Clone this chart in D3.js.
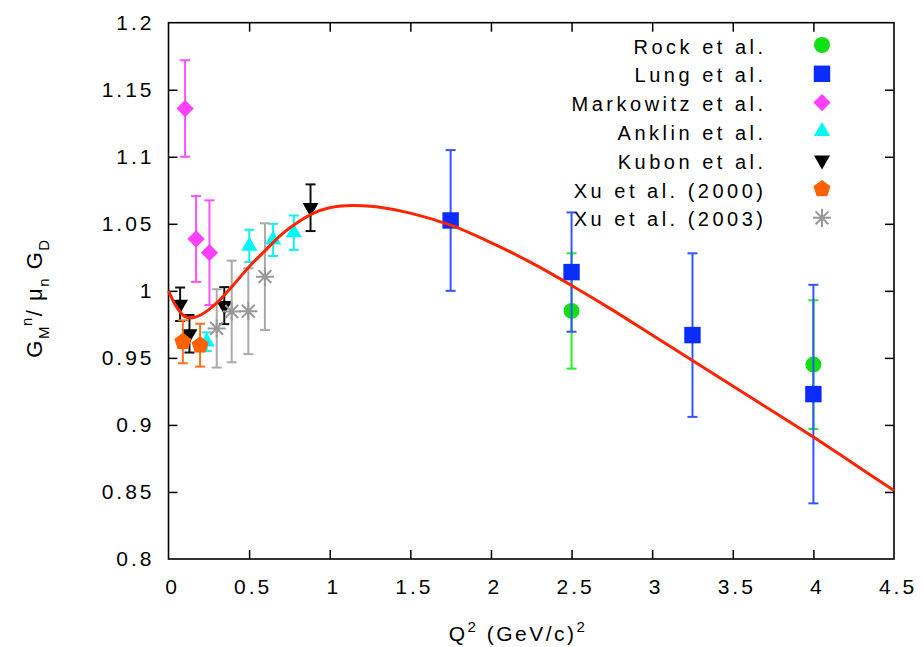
<!DOCTYPE html>
<html>
<head>
<meta charset="utf-8">
<script src="https://cdn.jsdelivr.net/npm/d3@7"></script>
<style>
  html, body { margin: 0; padding: 0; background: #fff; }
  svg { display: block; }
  text { font-family: "Liberation Sans", Arial, Helvetica, sans-serif; fill: #000; }
</style>
</head>
<body>
<svg id="chart" width="923" height="647"></svg>
<script>
// ---------------- data ----------------
const xTicks = [0, 0.5, 1, 1.5, 2, 2.5, 3, 3.5, 4, 4.5];
const xTickLabels = ["0", "0.5", "1", "1.5", "2", "2.5", "3", "3.5", "4", "4.5"];
const yTicks = [0.8, 0.85, 0.9, 0.95, 1.0, 1.05, 1.1, 1.15, 1.2];
const yTickLabels = ["0.8", "0.85", "0.9", "0.95", "1", "1.05", "1.1", "1.15", "1.2"];

const seriesNames = ["Rock et al.", "Lung et al.", "Markowitz et al.", "Anklin et al.", "Kubon et al.", "Xu et al. (2000)", "Xu et al. (2003)"];

const rockQ2 = [2.5, 4.0];
const rockG = [0.985, 0.945];
const rockErr = [0.043, 0.048];

const lungQ2 = [1.75, 2.5, 3.25, 4.0];
const lungG = [1.0525, 1.014, 0.967, 0.923];
const lungErr = [0.0525, 0.0445, 0.061, 0.0815];

const markQ2 = [0.103, 0.171, 0.254];
const markG = [1.136, 1.0387, 1.0285];
const markErr = [0.036, 0.032, 0.039];

const anklinQ2 = [0.237, 0.501, 0.649, 0.777];
const anklinG = [0.962, 1.0335, 1.038, 1.0434];
const anklinErr = [0.007, 0.012, 0.012, 0.0128];

const kubonQ2 = [0.072, 0.130, 0.346, 0.881];
const kubonG = [0.990, 0.968, 0.989, 1.062];
const kubonErr = [0.0125, 0.014, 0.0138, 0.0174];

const xu00Q2 = [0.089, 0.196];
const xu00G = [0.962, 0.9595];
const xu00Err = [0.016, 0.016];

const xu03Q2 = [0.299, 0.392, 0.495, 0.598];
const xu03G = [0.972, 0.9846, 0.9848, 1.0106];
const xu03Err = [0.0292, 0.0379, 0.032, 0.0398];

// fit curve
const curveQ2 = [0, 0.05, 0.1, 0.15, 0.2, 0.25, 0.3, 0.4, 0.5, 0.6, 0.7, 0.8, 0.9, 1.0, 1.1, 1.2, 1.3, 1.5, 1.75, 2.0, 2.25, 2.5, 2.75, 3.0, 3.25, 3.5, 3.75, 4.0, 4.25, 4.5];
const curveG = [1.000, 0.988, 0.981, 0.980, 0.982, 0.986, 0.991, 1.004, 1.018, 1.030, 1.042, 1.051, 1.058, 1.062, 1.0635, 1.0635, 1.0625, 1.058, 1.049, 1.036, 1.021, 1.004, 0.986, 0.967, 0.948, 0.929, 0.910, 0.891, 0.871, 0.851];

// ---------------- drawing ----------------
const svg = d3.select("#chart");
const pLeft = 168.5, pRight = 894, pTop = 22.7, pBottom = 559;
const x = d3.scaleLinear().domain([0, 4.5]).range([pLeft, pRight]);
const y = d3.scaleLinear().domain([0.8, 1.2]).range([pBottom, pTop]);

const tickFont = 21, tickLS = 3;

// axes with inward ticks
const gx = svg.append("g").attr("transform", `translate(0,${pBottom})`)
  .call(d3.axisBottom(x).tickValues(xTicks).tickFormat((d, i) => xTickLabels[i])
    .tickSizeInner(-9).tickSizeOuter(0).tickPadding(20));
const gxt = svg.append("g").attr("transform", `translate(0,${pTop})`)
  .call(d3.axisTop(x).tickValues(xTicks).tickFormat("").tickSizeInner(-9).tickSizeOuter(0));
const gy = svg.append("g").attr("transform", `translate(${pLeft},0)`)
  .call(d3.axisLeft(y).tickValues(yTicks).tickFormat((d, i) => yTickLabels[i])
    .tickSizeInner(-9).tickSizeOuter(0).tickPadding(17));
const gyr = svg.append("g").attr("transform", `translate(${pRight},0)`)
  .call(d3.axisRight(y).tickValues(yTicks).tickFormat("").tickSizeInner(-9).tickSizeOuter(0));

[gx, gxt, gy, gyr].forEach(g => {
  g.select(".domain").remove();
  g.selectAll(".tick line").attr("stroke", "#000").attr("stroke-width", 1.5);
  g.selectAll(".tick text").attr("font-size", tickFont).attr("letter-spacing", tickLS)
    .attr("font-family", '"Liberation Sans", Arial, sans-serif').attr("fill", "#000");
});
gx.selectAll(".tick text").attr("dx", tickLS / 2 + 2);
gy.selectAll(".tick text").attr("dx", tickLS);
// remove mirrored ticks at the corners
gxt.selectAll(".tick").filter(d => d === 0 || d === 4.5).remove();
gyr.selectAll(".tick").filter(d => d === 0.8 || d === 1.2).remove();
gx.selectAll(".tick line").filter(d => d === 0 || d === 4.5).remove();
gy.selectAll(".tick line").filter(d => d === 0.8 || d === 1.2).remove();

// frame
svg.append("rect").attr("x", pLeft).attr("y", pTop).attr("width", pRight - pLeft).attr("height", pBottom - pTop)
  .attr("fill", "none").attr("stroke", "#000").attr("stroke-width", 1.6);

// symbol shapes
const pentagon = {
  draw(ctx, size) {
    const r = Math.sqrt(size / 2.378);
    for (let k = 0; k < 5; k++) {
      const a = -Math.PI / 2 + k * 2 * Math.PI / 5;
      const px = r * Math.cos(a), py = r * Math.sin(a);
      if (k === 0) ctx.moveTo(px, py); else ctx.lineTo(px, py);
    }
    ctx.closePath();
  }
};
const star8 = {
  draw(ctx, size) {
    const r = Math.sqrt(size) / 2;
    const d = r * Math.SQRT1_2;
    ctx.moveTo(-r, 0); ctx.lineTo(r, 0);
    ctx.moveTo(0, -r); ctx.lineTo(0, r);
    ctx.moveTo(-d, -d); ctx.lineTo(d, d);
    ctx.moveTo(-d, d); ctx.lineTo(d, -d);
  }
};

const series = [
  { name: seriesNames[0], q: rockQ2, g: rockG, e: rockErr, color: "#11e011", bar: "#22ee22", type: d3.symbolCircle, size: 200, rot: 0 },
  { name: seriesNames[1], q: lungQ2, g: lungG, e: lungErr, color: "#0a2cff", bar: "#3355ff", type: d3.symbolSquare, size: 270, rot: 0 },
  { name: seriesNames[2], q: markQ2, g: markG, e: markErr, color: "#ff40ff", bar: "#ff50ff", type: d3.symbolSquare, size: 150, rot: 45 },
  { name: seriesNames[3], q: anklinQ2, g: anklinG, e: anklinErr, color: "#00f8f8", bar: "#10f0f0", type: d3.symbolTriangle, size: 115, rot: 0 },
  { name: seriesNames[4], q: kubonQ2, g: kubonG, e: kubonErr, color: "#000000", bar: "#111111", type: d3.symbolTriangle, size: 110, rot: 180 },
  { name: seriesNames[5], q: xu00Q2, g: xu00G, e: xu00Err, color: "#ff6000", bar: "#ff7020", type: pentagon, size: 190, rot: 0 },
  { name: seriesNames[6], q: xu03Q2, g: xu03G, e: xu03Err, color: "#999999", bar: "#aaaaaa", type: star8, size: 330, rot: 0, stroke: true }
];

const capW = 5;
series.forEach(s => {
  const g = svg.append("g");
  const pts = s.q.map((q, i) => ({ q, v: s.g[i], e: s.e[i] }));
  // error bars
  pts.forEach(p => {
    const xp = x(p.q), y1 = y(p.v - p.e), y2 = y(p.v + p.e);
    g.append("line").attr("x1", xp).attr("x2", xp).attr("y1", y1).attr("y2", y2)
      .attr("stroke", s.bar).attr("stroke-width", 2);
    [y1, y2].forEach(yy => g.append("line").attr("x1", xp - capW).attr("x2", xp + capW)
      .attr("y1", yy).attr("y2", yy).attr("stroke", s.bar).attr("stroke-width", 2));
  });
  // markers
  g.selectAll("path.m").data(pts).join("path").attr("class", "m")
    .attr("d", d3.symbol().type(s.type).size(s.size))
    .attr("transform", p => `translate(${x(p.q)},${y(p.v)}) rotate(${s.rot})`)
    .attr("fill", s.stroke ? "none" : s.color)
    .attr("stroke", s.stroke ? s.color : "none")
    .attr("stroke-width", s.stroke ? 2 : 0);
});

// fit curve
const curvePts = curveQ2.map((q, i) => [q, curveG[i]]);
svg.append("path").datum(curvePts)
  .attr("d", d3.line().x(d => x(d[0])).y(d => y(d[1])).curve(d3.curveCatmullRom))
  .attr("fill", "none").attr("stroke", "#ff2400").attr("stroke-width", 3);

// legend
const legTextX = 763, legMarkX = 822, legY0 = 45, legDY = 28.8;
series.forEach((s, i) => {
  const yy = legY0 + i * legDY;
  svg.append("text").attr("x", legTextX + 3.5).attr("y", yy + 8.5)
    .attr("text-anchor", "end").attr("font-size", 20).attr("letter-spacing", 3.5)
    .text(s.name);
  svg.append("path").attr("d", d3.symbol().type(s.type).size(s.size)())
    .attr("transform", `translate(${legMarkX},${yy}) rotate(${s.rot})`)
    .attr("fill", s.stroke ? "none" : s.color)
    .attr("stroke", s.stroke ? s.color : "none")
    .attr("stroke-width", s.stroke ? 2 : 0);
});

// axis titles
const xl = svg.append("text").attr("x", 518).attr("y", 641).attr("text-anchor", "middle")
  .attr("font-size", 21).attr("letter-spacing", 2.5);
xl.append("tspan").text("Q");
xl.append("tspan").attr("font-size", 15).attr("dy", -9).text("2");
xl.append("tspan").attr("dy", 9).text("  (GeV/c)");
xl.append("tspan").attr("font-size", 15).attr("dy", -9).text("2");

const yl = svg.append("text").attr("transform", "translate(42,298) rotate(-90)")
  .attr("text-anchor", "middle").attr("font-size", 22).attr("letter-spacing", 1.5);
yl.append("tspan").text("G");
yl.append("tspan").attr("font-size", 15).attr("dy", 7).text("M");
yl.append("tspan").attr("font-size", 15).attr("dy", -17).attr("dx", -1).text("n");
yl.append("tspan").attr("dy", 10).text("/ μ");
yl.append("tspan").attr("font-size", 15).attr("dy", 7).text("n");
yl.append("tspan").attr("dy", -7).text(" G");
yl.append("tspan").attr("font-size", 15).attr("dy", 7).text("D");
</script>
</body>
</html>
